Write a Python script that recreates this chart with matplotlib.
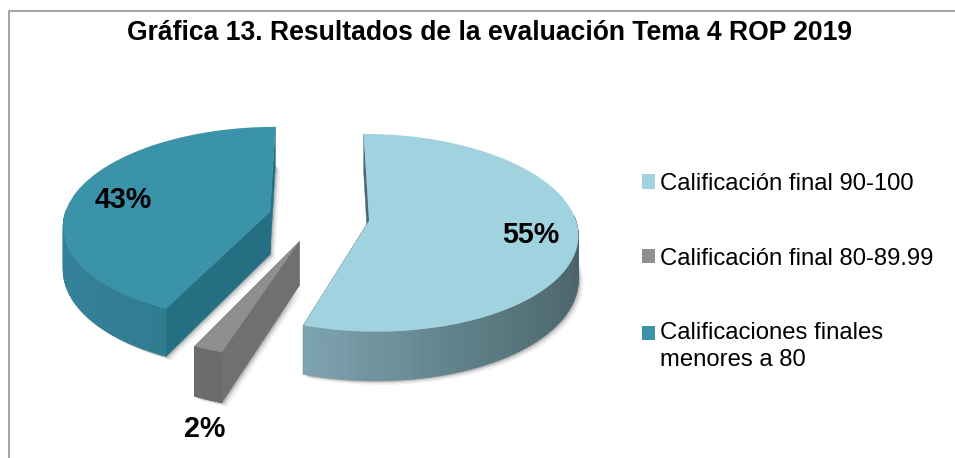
import numpy as np
import matplotlib
matplotlib.use("Agg")
import matplotlib.pyplot as plt
from matplotlib.patches import Patch
from matplotlib.transforms import Transform
from matplotlib.colors import to_rgb

plt.rcParams['font.family'] = ['Liberation Sans', 'DejaVu Sans']

title = "Gráfica 13. Resultados de la evaluación Tema 4 ROP 2019"
categories = ["Calificación final 90-100", "Calificación final 80-89.99",
              "Calificaciones finales\nmenores a 80"]
values = [55, 2, 43]
explode = [0.24, 0.265, 0.25]
colors = ["#a1d2e0", "#8f8f8f", "#3a93a8"]
label_pos = [(531, 235), (205, 429), (123, 200)]

# side wall colours, left to right along the rim, then the cut faces
rim_colors = [("#7ea3b0", "#5f8189", "#4a6268"),
              ("#6c6c6c", "#6c6c6c", "#6c6c6c"),
              ("#33809a", "#2f7d92", "#256f82")]
cut_colors = ["#4a6872", "#707070", "#256f82"]

# pseudo 3D view of the unit pie, in pixels
cx, cy = 320, 217
rx, ry = 206, 96.5
k = 0.122
depth = 43


def proj(x, y, z=0.0):
    w = 1 + k * np.asarray(y)
    return cx + rx * np.asarray(x) / w, cy - ry * np.asarray(y) / w + depth * z / w


class PieView(Transform):
    input_dims = 2
    output_dims = 2

    def transform_non_affine(self, values):
        sx, sy = proj(values[:, 0], values[:, 1])
        return np.column_stack([sx, sy])


def blend(cols, t):
    c = [np.array(to_rgb(h)) for h in cols]
    if t < 0.5:
        return tuple(c[0] + (c[1] - c[0]) * t * 2)
    return tuple(c[1] + (c[2] - c[1]) * (t - 0.5) * 2)


fig = plt.figure(figsize=(9.55, 4.58), dpi=100)
ax = fig.add_axes([0, 0, 1, 1])

wedges, _ = ax.pie(values, explode=explode, colors=colors, startangle=90,
                   counterclock=False, radius=1.0, wedgeprops={'linewidth': 0})
ax.set_aspect('auto')
ax.set_xlim(0, 955)
ax.set_ylim(458, 0)
ax.axis('off')

view = PieView() + ax.transData

for i, wd in enumerate(wedges):
    wd.set_transform(view)
    wd.set_zorder(5 + i * 3)
    ox, oy = wd.center
    th = np.radians(np.linspace(wd.theta1, wd.theta2, 90))
    xs = ox + np.cos(th)
    ys = oy + np.sin(th)

    # soft shadow under the piece
    bx = np.concatenate([[ox], xs, [ox]])
    by = np.concatenate([[oy], ys, [oy]])
    sx, sy = proj(bx, by, 1.0)
    for off, a in [(5, 0.06), (3, 0.10), (1.5, 0.14)]:
        ax.fill(sx + off, sy + off * 0.8, color='k', alpha=a, lw=0, zorder=3 + i * 3)

    # cut faces
    for ex, ey in [(xs[0], ys[0]), (xs[-1], ys[-1])]:
        x0, y0 = proj(ox, oy)
        x1, y1 = proj(ex, ey)
        x2, y2 = proj(ex, ey, 1.0)
        x3, y3 = proj(ox, oy, 1.0)
        ax.fill([x0, x1, x2, x3], [y0, y1, y2, y3], color=cut_colors[i], lw=0.3,
                ec=cut_colors[i], zorder=4 + i * 3)

    # rim, only the part that looks to the front
    lo = xs.min()
    hi = xs.max()
    for j in range(len(th) - 1):
        if np.sin(th[j]) > 0.05:
            continue
        x0, y0 = proj(xs[j:j + 2], ys[j:j + 2])
        x1, y1 = proj(xs[j:j + 2], ys[j:j + 2], 1.0)
        col = blend(rim_colors[i], (xs[j] - lo) / (hi - lo))
        ax.fill(np.r_[x0, x1[::-1]], np.r_[y0, y1[::-1]], color=col, lw=0.4, ec=col,
                zorder=4.5 + i * 3)

for v, pos in zip(values, label_pos):
    ax.text(pos[0], pos[1], "%d%%" % v, fontsize=20.6, fontweight='bold', ha='center',
            va='center', color='k', zorder=20)

ax.text(489, 33, title, fontsize=19.1, fontweight='bold', ha='center', va='center')

# frame, only top and left show up
ax.plot([9, 9, 955], [458, 10.5, 10.5], color="#a6a6a6", lw=1.5, zorder=1)

handles = [Patch(facecolor=c, edgecolor='none') for c in colors]
leg = ax.legend(handles, categories, loc='upper left', bbox_to_anchor=(642, 173),
                bbox_transform=ax.transData, frameon=False, fontsize=17.2, borderpad=0,
                borderaxespad=0, handlelength=0.54, handleheight=0.54, handletextpad=0.2,
                labelspacing=2.2)
for t in leg.get_texts():
    t.set_linespacing(1.29)
# square of the two line entry sits at its first line
h3 = leg.get_patches()[2]
h3.set_y(h3.get_y() + 10)

fig.savefig("out.png", dpi=100)
